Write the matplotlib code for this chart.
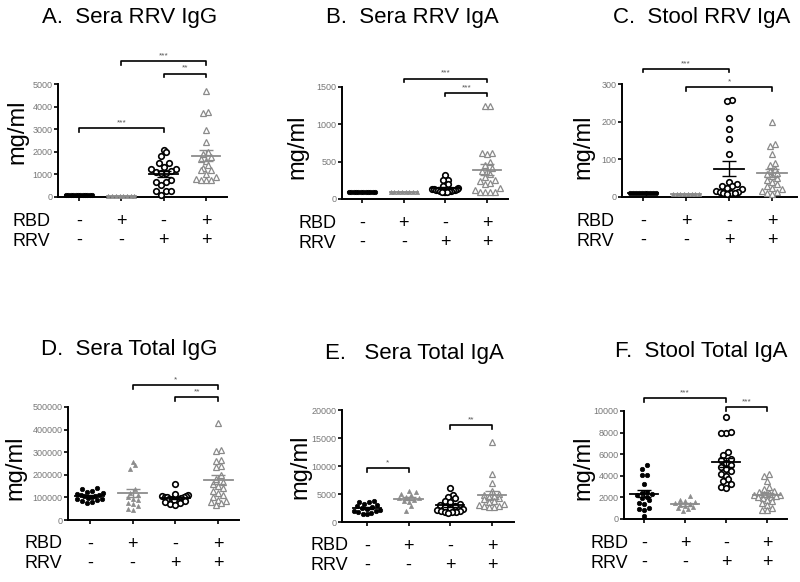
import numpy as np
import matplotlib
matplotlib.use('Agg')
import matplotlib.pyplot as plt

plt.rcParams['font.family'] = ['Liberation Sans', 'DejaVu Sans']

# ---- data ----
titles = ['A.  Sera RRV IgG', 'B.  Sera RRV IgA', 'C.  Stool RRV IgA',
          'D.  Sera Total IgG', 'E.   Sera Total IgA', 'F.  Stool Total IgA']
rbd_signs = ['-', '+', '-', '+']
rrv_signs = ['-', '-', '+', '+']

a_g1 = [110, 100, 95, 105, 100, 90, 110, 100, 95, 105, 100, 90]
a_g2 = [60, 55, 60, 65, 60, 55, 60, 60]
a_g3 = [2060, 1970, 1820, 1500, 1500, 1310, 1240, 1240, 1130, 1090, 1060, 1050,
        735, 650, 650, 545, 280, 280, 280, 100]
a_g4 = [4700, 3750, 3700, 2950, 2450, 2000, 1900, 1750, 1700, 1600, 1400, 1300,
        1200, 1200, 1000, 900, 800, 750, 750, 750]

b_g1 = [100, 100, 100, 100, 100, 100, 100, 100, 100, 100, 100, 100]
b_g2 = [95, 95, 95, 95, 95, 95, 95, 95]
b_g3 = [320, 260, 250, 200, 170, 150, 140, 130, 130, 125, 120, 120, 115, 110,
        110, 105, 100, 100, 100, 100]
b_g4 = [1250, 1240, 620, 610, 600, 500, 450, 420, 380, 370, 330, 300, 260, 240,
        220, 200, 150, 120, 100, 100, 100, 100]

c_g1 = [10, 10, 10, 10, 10, 10, 10, 10, 10, 10]
c_g2 = [8, 8, 8, 8, 8, 8, 8, 8]
c_g3 = [258, 255, 210, 180, 155, 115, 40, 35, 30, 28, 25, 20, 15, 12, 12, 10,
        10, 10, 8]
c_g4 = [200, 140, 135, 115, 90, 85, 75, 70, 65, 60, 55, 50, 45, 40, 35, 30, 25,
        20, 15, 12, 10, 8]

d_g1 = [140000, 135000, 130000, 125000, 120000, 115000, 112000, 110000, 108000,
        105000, 100000, 98000, 95000, 92000, 90000, 85000, 80000, 75000]
d_g2 = [255000, 245000, 225000, 135000, 120000, 110000, 100000, 95000, 90000,
        75000, 70000, 60000, 50000, 45000]
d_g3 = [160000, 115000, 110000, 108000, 105000, 102000, 100000, 100000, 98000,
        95000, 95000, 92000, 90000, 88000, 85000, 80000, 75000, 70000, 65000]
d_g4 = [430000, 310000, 305000, 265000, 260000, 240000, 235000, 200000, 180000,
        170000, 160000, 150000, 140000, 130000, 120000, 110000, 100000, 90000,
        85000, 80000, 75000, 65000]

e_g1 = [3700, 3600, 3500, 3300, 3000, 2800, 2600, 2500, 2400, 2200, 2000, 1900,
        1800, 1600, 1500, 1500]
e_g2 = [5500, 5300, 5000, 4900, 4500, 4300, 4200, 4000, 3800, 3500, 2800, 2000]
e_g3 = [6000, 4800, 4500, 4200, 3800, 3500, 3200, 3000, 2800, 2600, 2500, 2400,
        2200, 2000, 2000, 1800, 1800, 1700, 1600]
e_g4 = [14200, 8600, 7000, 5500, 5000, 4800, 4600, 4500, 4300, 4100, 3800, 3500,
        3200, 3000, 2900, 2800, 2700, 2600]

f_g1 = [5000, 4600, 4100, 4100, 3200, 2500, 2400, 2300, 2200, 2000, 1900, 1800,
        1500, 1400, 1000, 900, 800, 300]
f_g2 = [2100, 1800, 1700, 1600, 1500, 1400, 1300, 1200, 1100, 1000, 900, 700]
f_g3 = [9400, 8000, 8000, 8100, 6200, 5900, 5600, 5500, 5200, 5000, 4800, 4600,
        4400, 4200, 4000, 3700, 3500, 3200, 3000, 2900]
f_g4 = [4200, 4000, 3500, 3000, 2800, 2600, 2500, 2400, 2300, 2200, 2200, 2100,
        2000, 2000, 1900, 1800, 1700, 1500, 1300, 1000, 800, 800]

panel_data = [[a_g1, a_g2, a_g3, a_g4], [b_g1, b_g2, b_g3, b_g4],
              [c_g1, c_g2, c_g3, c_g4], [d_g1, d_g2, d_g3, d_g4],
              [e_g1, e_g2, e_g3, e_g4], [f_g1, f_g2, f_g3, f_g4]]

yticks = [[0, 1000, 2000, 3000, 4000, 5000], [0, 500, 1000, 1500],
          [0, 100, 200, 300], [0, 100000, 200000, 300000, 400000, 500000],
          [0, 5000, 10000, 15000, 20000], [0, 2000, 4000, 6000, 8000, 10000]]

# significance brackets: (group from, group to, height, stars)
brackets = [
    [(2, 4, 6000, '***'), (3, 4, 5450, '**'), (1, 3, 3050, '***')],
    [(2, 4, 1610, '***'), (3, 4, 1420, '***')],
    [(1, 3, 340, '***'), (2, 4, 292, '*')],
    [(2, 4, 597000, '*'), (3, 4, 544000, '**')],
    [(1, 2, 9640, '*'), (3, 4, 17300, '**')],
    [(1, 3, 11200, '***'), (3, 4, 10370, '***')],
]

# ---- layout in pixels of an 800x582 canvas ----
W, H = 800, 582
# left, right, top (ymax), bottom (y=0) of each axes
boxes = [(58, 227, 84, 197), (342, 508, 87, 199), (622, 797, 84, 197),
         (68, 239, 407, 520), (342, 514, 410, 522), (624, 787, 411, 519)]
xlims = [(0.5, 4.5), (0.52, 4.5), (0.51, 4.58), (0.49, 4.49), (0.4, 4.53),
         (0.51, 4.49)]
title_pos = [(130, 17), (412, 17), (702, 17), (129, 350), (414, 353), (701, 352)]
ylab_pos = [(17, 132), (297, 147), (583, 147), (15, 468), (300, 467), (583, 468)]
rowlab_x = [13, 298, 577, 25, 310, 591]

gray = '#8c8c8c'
styles = [
    dict(marker='o', face='black', edge='black', ms=3.2, lw=0.5, mean='black'),
    dict(marker='^', face=gray, edge=gray, ms=3.0, lw=0.5, mean=gray),
    dict(marker='o', face='white', edge='black', ms=4.0, lw=1.2, mean='black'),
    dict(marker='^', face='white', edge='#8a8a8a', ms=3.9, lw=0.9, mean=gray),
]


def swarm(vals, ppu_x, ppu_y, d, maxhalf):
    # Prism-like rows: values closer than a marker get spread side by side,
    # lowest value in the middle, the rest alternating outwards
    vals = np.asarray(vals, dtype=float)
    order = np.argsort(vals, kind='stable')
    offs = np.zeros(len(vals))
    rows = []
    cur = [order[0]]
    for idx in order[1:]:
        if (vals[idx] - vals[cur[0]]) * ppu_y < d:
            cur.append(idx)
        else:
            rows.append(cur)
            cur = [idx]
    rows.append(cur)
    for row in rows:
        n = len(row)
        sp = d if n == 1 else min(d, 2 * maxhalf / (n - 1))
        slots = (np.arange(n) - (n - 1) / 2) * sp
        slots = sorted(slots, key=lambda s: (abs(s), s))
        for j, idx in enumerate(row):
            offs[idx] = slots[j]
    return offs / ppu_x


fig = plt.figure(figsize=(W / 100, H / 100), dpi=100)

for i in range(6):
    l, r, t, b = boxes[i]
    ax = fig.add_axes([l / W, 1 - b / H, (r - l) / W, (b - t) / H])
    ymax = yticks[i][-1]
    ax.set_xlim(*xlims[i])
    ax.set_ylim(0, ymax)
    ppu_x = (r - l) / (xlims[i][1] - xlims[i][0])
    ppu_y = (b - t) / ymax

    for g, vals in enumerate(panel_data[i]):
        st = styles[g]
        gx = g + 1
        offs = swarm(vals, ppu_x, ppu_y, 5.0, 13)
        ax.plot(gx + offs, vals, linestyle='none', marker=st['marker'],
                markersize=st['ms'], markerfacecolor=st['face'],
                markeredgecolor=st['edge'], markeredgewidth=st['lw'],
                clip_on=False, zorder=3)
        m = np.mean(vals)
        sem = np.std(vals, ddof=1) / np.sqrt(len(vals))
        ax.plot([gx - 0.34, gx + 0.34], [m, m], color=st['mean'], lw=1.3, zorder=4)
        ax.errorbar(gx, m, yerr=sem, color=st['mean'], capsize=5, lw=1.0,
                    capthick=1.0, zorder=4)

    for g1, g2, h, stars in brackets[i]:
        tick = 3.5 / ppu_y
        ax.plot([g1, g1, g2, g2], [h - tick, h, h, h - tick], color='black',
                lw=1.2, clip_on=False)
        ax.text((g1 + g2) / 2, h + 2 / ppu_y, stars, ha='center', va='bottom',
                fontsize=6, color='#555555', clip_on=False)

    ax.spines['top'].set_visible(False)
    ax.spines['right'].set_visible(False)
    ax.spines['left'].set_linewidth(1.4)
    ax.spines['bottom'].set_linewidth(1.4)
    ax.set_yticks(yticks[i])
    ax.set_yticklabels([str(v) for v in yticks[i]])
    ax.set_xticks([1, 2, 3, 4])
    ax.set_xticklabels([])
    ax.tick_params(axis='both', direction='out', length=3, width=1.2,
                   labelsize=6.5, labelcolor='#777777', pad=1)

    for g in range(4):
        ax.annotate(rbd_signs[g], xy=(g + 1, 0), xycoords=('data', 'axes fraction'),
                    xytext=(0, -17.5), textcoords='offset points',
                    ha='center', va='center', fontsize=13)
        ax.annotate(rrv_signs[g], xy=(g + 1, 0), xycoords=('data', 'axes fraction'),
                    xytext=(0, -31.5), textcoords='offset points',
                    ha='center', va='center', fontsize=13)

    fig.text(rowlab_x[i] / W, 1 - (b + 24) / H, 'RBD', ha='left', va='center',
             fontsize=13)
    fig.text(rowlab_x[i] / W, 1 - (b + 44) / H, 'RRV', ha='left', va='center',
             fontsize=13)
    fig.text(title_pos[i][0] / W, 1 - title_pos[i][1] / H, titles[i],
             ha='center', va='center', fontsize=16)
    fig.text(ylab_pos[i][0] / W, 1 - ylab_pos[i][1] / H, 'mg/ml', rotation=90,
             ha='center', va='center', fontsize=17)

fig.savefig('out.png', dpi=100)
